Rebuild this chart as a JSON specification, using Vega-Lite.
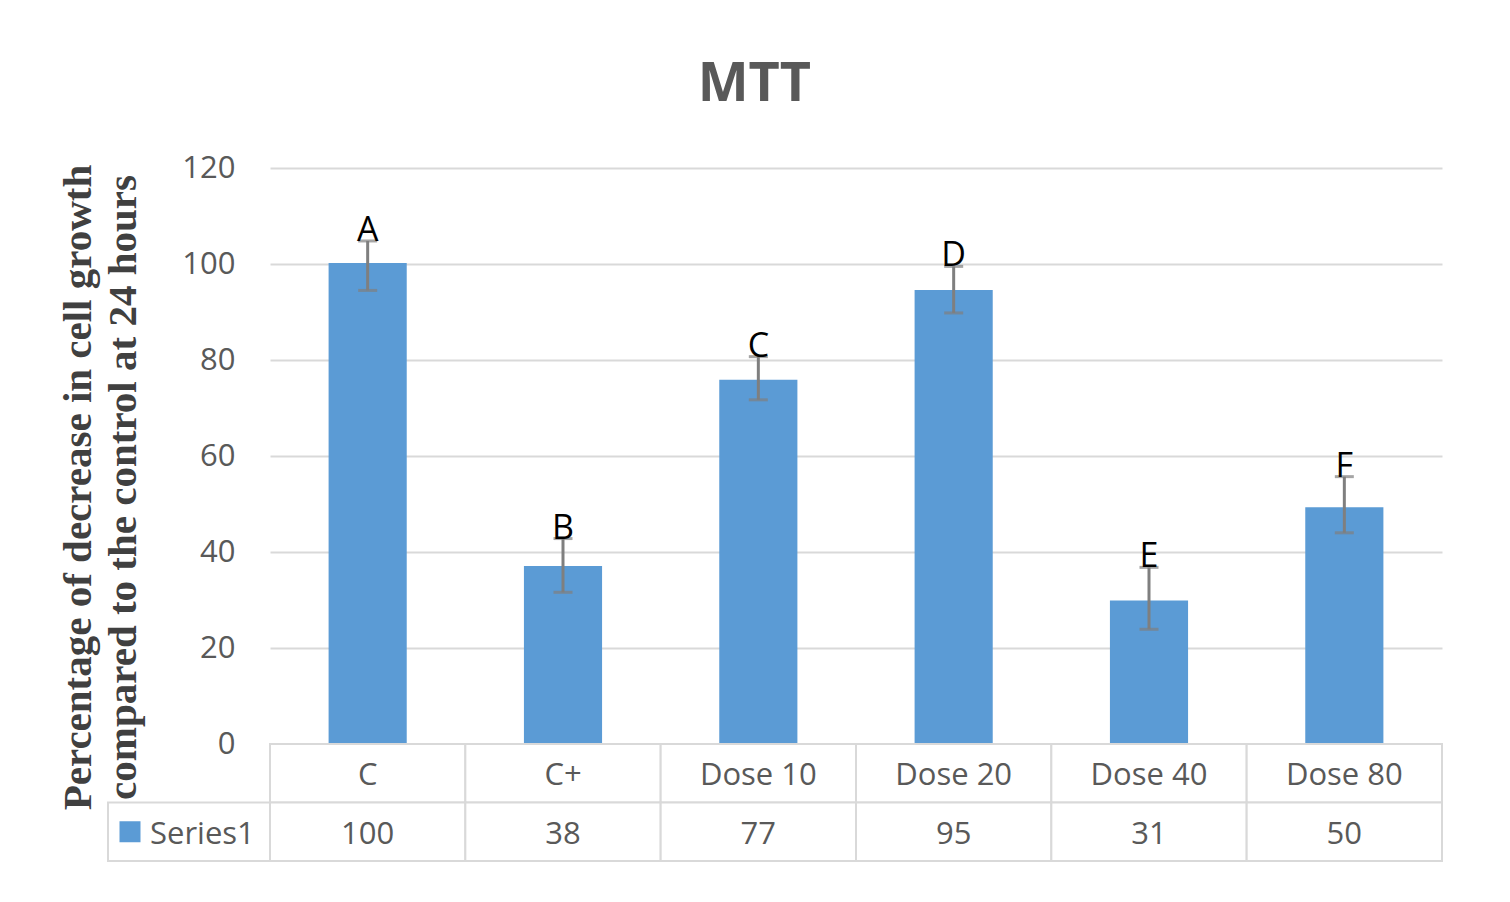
{
  "$schema": "https://vega.github.io/schema/vega-lite/v6.json",
  "padding": {"left": 57, "top": 58, "right": 20, "bottom": 20},
  "background": "white",
  "title": {"text": "MTT", "font": "Open Sans", "fontSize": 54, "fontWeight": "bold", "color": "#595959", "anchor": "middle", "offset": 40, "dx": 4},
  "datasets": {
    "mtt": [
      {"group": "C", "value": 100.2, "lo": 94.5, "hi": 104.8, "letter": "A", "shown": "100"},
      {"group": "C+", "value": 37.1, "lo": 31.6, "hi": 42.8, "letter": "B", "shown": "38"},
      {"group": "Dose 10", "value": 75.9, "lo": 71.7, "hi": 80.7, "letter": "C", "shown": "77"},
      {"group": "Dose 20", "value": 94.6, "lo": 89.8, "hi": 99.5, "letter": "D", "shown": "95"},
      {"group": "Dose 40", "value": 29.9, "lo": 23.9, "hi": 36.8, "letter": "E", "shown": "31"},
      {"group": "Dose 80", "value": 49.3, "lo": 44.0, "hi": 55.7, "letter": "F", "shown": "50"}
    ],
    "legendRows": [{"series": "Series1"}]
  },
  "columns": 2,
  "spacing": 0,
  "bounds": "flush",
  "align": "each",
  "config": {"view": {"stroke": null}, "font": "Open Sans"},
  "concat": [
    {
      "width": 162, "height": 576,
      "data": {"values": [{}]},
      "mark": {"type": "text", "text": ""}
    },
    {
      "width": 1172, "height": 576,
      "data": {"name": "mtt"},
      "encoding": {"x": {"field": "group", "type": "nominal", "sort": null, "scale": {"padding": 0}, "axis": null}},
      "layer": [
        {
          "mark": {"type": "bar", "color": "#5B9BD5", "width": {"band": 0.4}},
          "encoding": {"y": {"field": "value", "type": "quantitative", "scale": {"domain": [0, 120]},
            "axis": {"values": [0, 20, 40, 60, 80, 100, 120], "domain": false, "ticks": false, "grid": true,
              "gridColor": "#D9D9D9", "gridWidth": 2, "labelFont": "Open Sans", "labelFontSize": 31,
              "labelColor": "#595959", "labelPadding": 35,
              "title": ["Percentage of decrease in cell growth", "compared  to the control  at 24 hours"],
              "titleFont": "Liberation Serif", "titleFontSize": 41, "titleFontWeight": "bold", "titleColor": "#404040",
              "titleLineHeight": 45, "titlePadding": 37, "titleY": 319}}}
        },
        {
          "mark": {"type": "rule", "color": "#7F7F7F", "strokeWidth": 3},
          "encoding": {"y": {"field": "lo", "type": "quantitative"}, "y2": {"field": "hi"}}
        },
        {
          "mark": {"type": "tick", "color": "#7F7F7F", "thickness": 3, "size": 19, "orient": "horizontal"},
          "encoding": {"y": {"field": "lo", "type": "quantitative"}}
        },
        {
          "mark": {"type": "tick", "color": "#7F7F7F", "thickness": 3, "size": 19, "orient": "horizontal"},
          "encoding": {"y": {"field": "hi", "type": "quantitative"}}
        },
        {
          "mark": {"type": "text", "font": "Open Sans", "fontSize": 34, "color": "black", "baseline": "alphabetic"},
          "encoding": {"y": {"field": "hi", "type": "quantitative"}, "text": {"field": "letter"}}
        }
      ]
    },
    {
      "width": 162, "height": 117,
      "data": {"name": "legendRows"},
      "encoding": {
        "x": {"field": "series", "type": "nominal", "scale": {"padding": 0}, "axis": null},
        "y": {"datum": "val", "type": "nominal", "scale": {"domain": ["cat", "val"], "padding": 0}, "axis": null}
      },
      "layer": [
        {"mark": {"type": "rect", "fill": "white", "stroke": "#D9D9D9", "strokeWidth": 2}},
        {"mark": {"type": "point", "shape": "square", "filled": true, "size": 441, "color": "#5B9BD5", "opacity": 1, "xOffset": -59}},
        {"mark": {"type": "text", "align": "left", "xOffset": -39, "dy": 3, "fontSize": 31, "color": "#595959"}, "encoding": {"text": {"field": "series"}}}
      ]
    },
    {
      "width": 1172, "height": 117,
      "data": {"name": "mtt"},
      "encoding": {"x": {"field": "group", "type": "nominal", "sort": null, "scale": {"padding": 0}, "axis": null}},
      "layer": [
        {"mark": {"type": "rect", "fill": "white", "stroke": "#D9D9D9", "strokeWidth": 2},
         "encoding": {"y": {"datum": "cat", "type": "nominal", "scale": {"domain": ["cat", "val"], "padding": 0}, "axis": null}}},
        {"mark": {"type": "rect", "fill": "white", "stroke": "#D9D9D9", "strokeWidth": 2},
         "encoding": {"y": {"datum": "val", "type": "nominal"}}},
        {"mark": {"type": "text", "fontSize": 31, "dy": 3, "color": "#595959"},
         "encoding": {"y": {"datum": "cat", "type": "nominal"}, "text": {"field": "group"}}},
        {"mark": {"type": "text", "fontSize": 31, "dy": 3, "color": "#595959"},
         "encoding": {"y": {"datum": "val", "type": "nominal"}, "text": {"field": "shown"}}}
      ]
    }
  ]
}
